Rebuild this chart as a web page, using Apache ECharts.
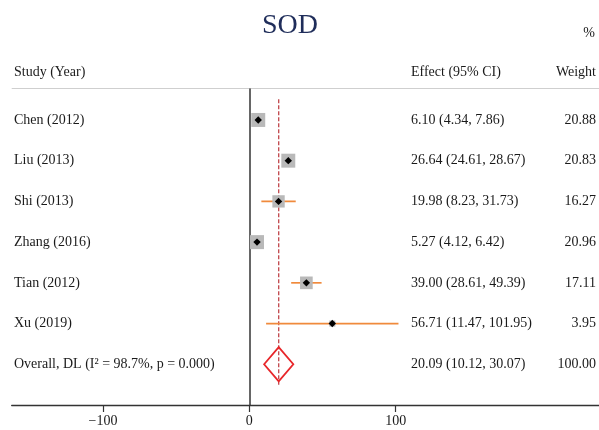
<!DOCTYPE html>
<html>
<head>
<meta charset="utf-8">
<script src="https://cdn.jsdelivr.net/npm/echarts@6/dist/echarts.min.js"></script>
<style>
	html, body { margin: 0; padding: 0; background: #fff; }
	#forest { width: 599px; height: 430px; }
</style>
</head>
<body>
<div id="forest"></div>
<script>
// 研究数据
var studies = ['Chen (2012)', 'Liu (2013)', 'Shi (2013)', 'Zhang (2016)', 'Tian (2012)', 'Xu (2019)'];
var effect = [6.10, 26.64, 19.98, 5.27, 39.00, 56.71];
var lower = [4.34, 24.61, 8.23, 4.12, 28.61, 11.47];
var upper = [7.86, 28.67, 31.73, 6.42, 49.39, 101.95];
var weight = [20.88, 20.83, 16.27, 20.96, 17.11, 3.95];

// 合并结果
var overallLabel = 'Overall, DL (I\u00b2 = 98.7%, p = 0.000)';
var overallEffect = 20.09;
var overallLower = 10.12;
var overallUpper = 30.07;
var overallWeight = 100.00;

var tickValues = [-100, 0, 100];

var FONT = '14px "Liberation Serif", "DejaVu Serif", serif';
var maxW = Math.max.apply(null, weight);

var rows = [];
for (var i = 0; i < studies.length; i++) {
	rows.push([i + 1, effect[i], lower[i], upper[i], weight[i], 0]);
}
rows.push([studies.length + 1, overallEffect, overallLower, overallUpper, overallWeight, 1]);

function fmt(v) {
	return v.toFixed(2);
}

function renderRow(params, api) {
	var row = api.value(0);
	var e = api.value(1), lo = api.value(2), hi = api.value(3), w = api.value(4);
	var isOverall = api.value(5) === 1;
	var idx = params.dataIndex;
	var pe = api.coord([e, row]);
	var pl = api.coord([lo, row]);
	var ph = api.coord([hi, row]);
	var y = pe[1];
	var rowH = api.size([0, 1])[1];
	var children = [];

	if (!isOverall) {
		// 置信区间
		children.push({
			type: 'line',
			shape: { x1: pl[0], y1: y, x2: ph[0], y2: y },
			style: { stroke: '#f08a3c', lineWidth: 1.7 }
		});
		// 权重方块
		var s = 14 * Math.sqrt(w / maxW);
		children.push({
			type: 'rect',
			shape: { x: pe[0] - s / 2, y: y - s / 2, width: s, height: s },
			style: { fill: '#b9b9b9' }
		});
		// 点估计
		var d = 3.7;
		children.push({
			type: 'polygon',
			shape: { points: [[pe[0], y - d], [pe[0] + d, y], [pe[0], y + d], [pe[0] - d, y]] },
			style: { fill: '#000' }
		});
	} else {
		var hh = rowH * 0.42;
		children.push({
			type: 'polygon',
			shape: { points: [[pl[0], y], [pe[0], y - hh], [ph[0], y], [pe[0], y + hh]] },
			style: { fill: 'none', stroke: '#e8262a', lineWidth: 1.8 }
		});
	}

	var label = isOverall ? overallLabel : studies[idx];
	children.push({
		type: 'text',
		style: { text: label, x: 14, y: y, font: FONT, fill: '#1a1a1a', textAlign: 'left', textVerticalAlign: 'middle' }
	});
	children.push({
		type: 'text',
		style: { text: fmt(e) + ' (' + fmt(lo) + ', ' + fmt(hi) + ')', x: 411, y: y, font: FONT, fill: '#1a1a1a', textAlign: 'left', textVerticalAlign: 'middle' }
	});
	children.push({
		type: 'text',
		style: { text: fmt(w), x: 596, y: y, font: FONT, fill: '#1a1a1a', textAlign: 'right', textVerticalAlign: 'middle' }
	});
	return { type: 'group', children: children };
}

var myChart = echarts.init(document.getElementById('forest'), null, { renderer: 'canvas' });

var option = {
	backgroundColor: '#fff',
	animation: false,
	grid: { left: 11.7, right: 0, top: 89, bottom: 25 },
	xAxis: {
		type: 'value',
		min: -162.4,
		max: 239,
		splitLine: { show: false },
		axisLine: { show: true, onZero: false, lineStyle: { color: '#333', width: 1.3 } },
		axisTick: { show: true, length: 7, customValues: tickValues, lineStyle: { color: '#333', width: 1.2 } },
		axisLabel: {
			customValues: tickValues,
			margin: 9,
			color: '#1a1a1a',
			fontFamily: '"Liberation Serif", serif',
			fontSize: 14,
			formatter: function(v) {
				return v < 0 ? '\u2212' + Math.abs(v) : String(v);
			}
		}
	},
	yAxis: {
		type: 'value',
		inverse: true,
		min: 0.24,
		max: 8,
		axisLine: { show: true, onZero: true, lineStyle: { color: '#333', width: 1.5 } },
		axisTick: { show: false },
		axisLabel: { show: false },
		splitLine: { show: false }
	},
	graphic: [
		{
			type: 'text',
			style: { text: 'SOD', x: 290, y: 26, font: '28px "Liberation Serif", serif', fill: '#1f2d5a', textAlign: 'center', textVerticalAlign: 'middle' }
		},
		{
			type: 'text',
			style: { text: '%', x: 589, y: 33, font: FONT, fill: '#1a1a1a', textAlign: 'center', textVerticalAlign: 'middle' }
		},
		{
			type: 'text',
			style: { text: 'Study (Year)', x: 14, y: 72, font: FONT, fill: '#1a1a1a', textAlign: 'left', textVerticalAlign: 'middle' }
		},
		{
			type: 'text',
			style: { text: 'Effect (95% CI)', x: 411, y: 72, font: FONT, fill: '#1a1a1a', textAlign: 'left', textVerticalAlign: 'middle' }
		},
		{
			type: 'text',
			style: { text: 'Weight', x: 596, y: 72, font: FONT, fill: '#1a1a1a', textAlign: 'right', textVerticalAlign: 'middle' }
		},
		{
			type: 'line',
			shape: { x1: 11.7, y1: 88.5, x2: 599, y2: 88.5 },
			style: { stroke: '#cfcfcf', lineWidth: 1.2 }
		}
	],
	series: [
		{
			// 合并效应虚线
			type: 'line',
			data: [[overallEffect, 0.49], [overallEffect, 7.5]],
			symbol: 'none',
			lineStyle: { color: '#c0444a', width: 1.3, type: [4, 2] },
			z: 1
		},
		{
			type: 'custom',
			renderItem: renderRow,
			data: rows,
			encode: { x: [1, 2, 3], y: 0 },
			clip: false,
			z: 2
		}
	]
};
myChart.setOption(option);
</script>
</body>
</html>
